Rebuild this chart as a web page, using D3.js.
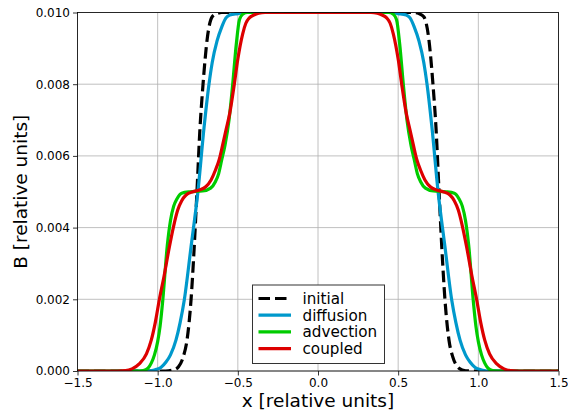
<!DOCTYPE html>
<html lang="en">
<head>
<meta charset="UTF-8">
<title>B profiles</title>
<script src="https://d3js.org/d3.v7.min.js"></script>
<style>
    body { margin: 0; background: white; }
    svg text { font-family: "DejaVu Sans", sans-serif; fill: black; }
    .grid line { stroke: #b0b0b0; stroke-width: 0.8px; }
    .axis path, .axis line { stroke: black; stroke-width: 0.8px; }
    .axis text { font-size: 12px; }
</style>
</head>
<body>
<svg id="chart" width="568" height="412"></svg>
<script>
    // values, right half (x >= 0); profiles are symmetric
    let initialHalf = [[0,0.0100],[0.60,0.0100],[0.63,0.00997],[0.66,0.00988],[0.69,0.0093],[0.717,0.0080],
        [0.736,0.00678],[0.755,0.0050],[0.772,0.00346],[0.792,0.00198],[0.817,0.00086],[0.84,0.00040],
        [0.87,0.00012],[0.90,0.00003],[0.95,0],[1.5,0]];
    let diffusionHalf = [[0,0.0100],[0.45,0.0100],[0.50,0.00997],[0.55,0.00993],[0.574,0.00985],[0.60,0.0096],
        [0.63,0.0092],[0.66,0.0086],[0.68,0.0080],[0.711,0.00678],[0.749,0.0050],[0.792,0.00346],
        [0.834,0.00198],[0.86,0.00135],[0.886,0.00086],[0.92,0.00045],[0.948,0.00025],[0.98,0.00010],
        [1.02,0.00003],[1.06,0],[1.5,0]];
    let advectionHalf = [[0,0.0100],[0.44,0.0100],[0.47,0.00995],[0.49,0.00980],[0.51,0.0091],[0.532,0.0080],
        [0.555,0.0070],[0.58,0.0063],[0.60,0.0059],[0.62,0.0055],[0.64,0.00528],[0.67,0.00510],
        [0.72,0.00502],[0.80,0.00500],[0.85,0.00496],[0.88,0.00480],[0.90,0.00460],[0.92,0.00420],
        [0.94,0.00350],[0.968,0.00198],[0.985,0.00125],[1.00,0.00082],[1.02,0.00045],[1.04,0.00022],
        [1.06,0.00008],[1.09,0.00001],[1.12,0],[1.5,0]];
    let coupledHalf = [[0,0.0100],[0.33,0.0100],[0.37,0.00998],[0.40,0.00993],[0.428,0.00985],[0.45,0.0097],
        [0.47,0.0094],[0.50,0.0087],[0.522,0.0080],[0.55,0.0072],[0.574,0.00672],[0.595,0.0063],
        [0.616,0.0059],[0.64,0.00560],[0.667,0.00533],[0.70,0.00514],[0.74,0.00505],[0.78,0.00500],
        [0.823,0.00491],[0.85,0.00475],[0.875,0.00449],[0.90,0.00405],[0.927,0.00346],[0.96,0.00265],
        [0.99,0.00198],[1.015,0.00135],[1.04,0.00086],[1.07,0.00048],[1.115,0.00020],[1.16,0.00006],
        [1.20,0.00001],[1.25,0],[1.5,0]];

    let seriesNames = ["initial", "diffusion", "advection", "coupled"];
    let seriesColors = ["black", "#0099cc", "#00cc00", "#dd0000"];
    let xTicks = [-1.5, -1.0, -0.5, 0.0, 0.5, 1.0, 1.5];
    let yTicks = [0, 0.002, 0.004, 0.006, 0.008, 0.010];

    function mirror(half) {
        let left = half.slice(1).map(function (p) { return [-p[0], p[1]]; }).reverse();
        return left.concat(half);
    }
    let allSeries = [initialHalf, diffusionHalf, advectionHalf, coupledHalf].map(mirror);

    let svg = d3.select("#chart");
    let margin = {left: 77.5, right: 9.5, top: 12.5, bottom: 41};
    let width = 568 - margin.left - margin.right;
    let height = 412 - margin.top - margin.bottom;

    let x = d3.scaleLinear().domain([-1.5, 1.5]).range([0, width]);
    let y = d3.scaleLinear().domain([0, 0.010]).range([height, 0]);

    let g = svg.append("g").attr("transform", "translate(" + margin.left + "," + margin.top + ")");

    svg.append("defs").append("clipPath").attr("id", "clip")
        .append("rect").attr("width", width).attr("height", height);

    // grid
    g.append("g").attr("class", "grid")
        .selectAll("line.v").data(xTicks).enter().append("line")
        .attr("x1", d => x(d)).attr("x2", d => x(d)).attr("y1", 0).attr("y2", height);
    g.append("g").attr("class", "grid")
        .selectAll("line.h").data(yTicks).enter().append("line")
        .attr("y1", d => y(d)).attr("y2", d => y(d)).attr("x1", 0).attr("x2", width);

    let line = d3.line()
        .x(d => x(d[0]))
        .y(d => y(d[1]))
        .curve(d3.curveMonotoneX);

    let curves = g.append("g").attr("clip-path", "url(#clip)");
    allSeries.forEach(function (data, i) {
        curves.append("path")
            .attr("d", line(data))
            .attr("fill", "none")
            .attr("stroke", seriesColors[i])
            .attr("stroke-width", 3.2)
            .attr("stroke-dasharray", i === 0 ? "11.5,5" : null);
    });

    // axes
    let fmtX = d => d3.format(".1f")(d).replace("-", "\u2212");
    g.append("g").attr("class", "axis")
        .attr("transform", "translate(0," + height + ")")
        .call(d3.axisBottom(x).tickValues(xTicks).tickFormat(fmtX).tickSize(4.5).tickPadding(3));
    g.append("g").attr("class", "axis")
        .call(d3.axisLeft(y).tickValues(yTicks).tickFormat(d3.format(".3f")).tickSize(4.5).tickPadding(3));
    g.append("rect").attr("width", width).attr("height", height)
        .attr("fill", "none").attr("stroke", "black").attr("stroke-width", 0.8);
    g.selectAll(".axis .domain").remove();

    svg.append("text")
        .attr("x", margin.left + width / 2).attr("y", 407)
        .attr("text-anchor", "middle").style("font-size", "18.5px")
        .text("x [relative units]");
    svg.append("text")
        .attr("transform", "translate(27," + (margin.top + height / 2) + ") rotate(-90)")
        .attr("text-anchor", "middle").style("font-size", "18.5px")
        .text("B [relative units]");

    // legend
    let legend = svg.append("g").attr("transform", "translate(252.5,285)");
    legend.append("rect").attr("width", 132).attr("height", 78.5)
        .attr("fill", "white").attr("stroke", "#333").attr("stroke-width", 1);
    seriesNames.forEach(function (name, i) {
        let ly = 13.5 + i * 16.7;
        legend.append("line")
            .attr("x1", 6).attr("x2", 38.5).attr("y1", ly).attr("y2", ly)
            .attr("stroke", seriesColors[i]).attr("stroke-width", 3.2)
            .attr("stroke-dasharray", i === 0 ? "11.5,5" : null);
        legend.append("text")
            .attr("x", 50).attr("y", ly + 5.5)
            .style("font-size", "15.2px")
            .text(name);
    });
</script>
</body>
</html>
